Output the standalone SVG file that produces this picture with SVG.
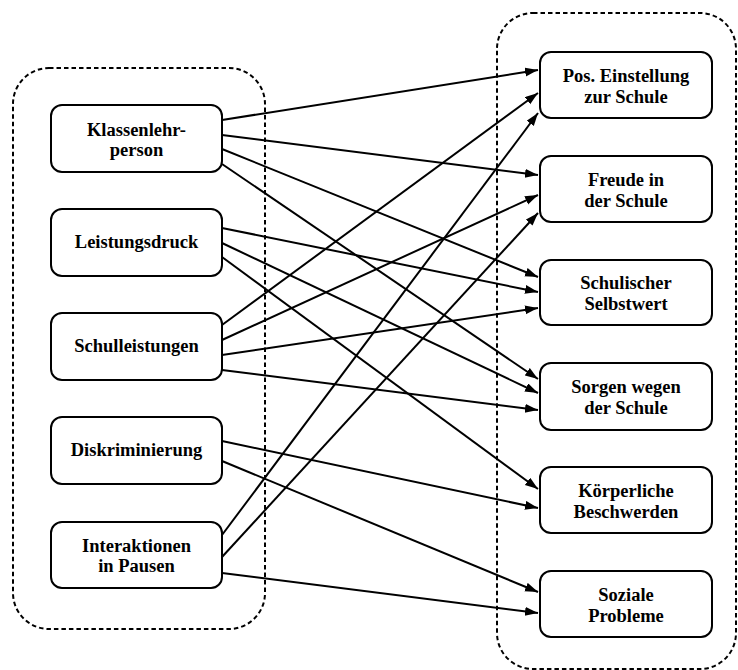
<svg xmlns="http://www.w3.org/2000/svg" width="738" height="670" viewBox="0 0 738 670">
<defs>
<style>
.cont{fill:none;stroke:#000;stroke-width:2;stroke-dasharray:4.5 3}
.box rect{fill:#fff;stroke:#000;stroke-width:2}
.box text{font-family:'Liberation Serif','Times New Roman',serif;font-size:18.5px;font-weight:bold;fill:#000;text-anchor:middle}
.edges line{stroke:#000;stroke-width:2;fill:none}
</style>
<marker id="ah" markerUnits="userSpaceOnUse" markerWidth="14" markerHeight="10" refX="13" refY="4.5" orient="auto">
<path d="M0,0 L13,4.5 L0,9 z" fill="#000"/>
</marker>
</defs>
<rect x="0" y="0" width="738" height="670" fill="#fff"/>
<g id="containers">
<rect class="cont" x="13" y="68" width="252" height="561" rx="36" ry="36"/>
<rect class="cont" x="497" y="13" width="239" height="656" rx="36" ry="36"/>
</g>
<g class="edges" id="connectors">
<line x1="222" y1="120" x2="538" y2="70" marker-end="url(#ah)"/>
<line x1="222" y1="135" x2="538" y2="175" marker-end="url(#ah)"/>
<line x1="222" y1="149" x2="538" y2="277" marker-end="url(#ah)"/>
<line x1="222" y1="164" x2="538" y2="379" marker-end="url(#ah)"/>
<line x1="222" y1="228" x2="538" y2="292" marker-end="url(#ah)"/>
<line x1="222" y1="243" x2="538" y2="393" marker-end="url(#ah)"/>
<line x1="222" y1="257" x2="538" y2="489" marker-end="url(#ah)"/>
<line x1="222" y1="325" x2="538" y2="93" marker-end="url(#ah)"/>
<line x1="222" y1="340" x2="538" y2="195" marker-end="url(#ah)"/>
<line x1="222" y1="355" x2="538" y2="308" marker-end="url(#ah)"/>
<line x1="222" y1="370" x2="538" y2="410" marker-end="url(#ah)"/>
<line x1="222" y1="441" x2="538" y2="508" marker-end="url(#ah)"/>
<line x1="222" y1="461" x2="538" y2="592" marker-end="url(#ah)"/>
<line x1="222" y1="535" x2="538" y2="113" marker-end="url(#ah)"/>
<line x1="222" y1="557" x2="538" y2="213" marker-end="url(#ah)"/>
<line x1="222" y1="573" x2="538" y2="613" marker-end="url(#ah)"/>
</g>
<g class="box" id="klassenlehrperson">
<rect x="51" y="105" width="171" height="67" rx="11"/>
<text x="136.5" y="136">Klassenlehr-</text>
<text x="136.5" y="156">person</text>
</g>
<g class="box" id="leistungsdruck">
<rect x="51" y="209" width="171" height="67" rx="11"/>
<text x="136.5" y="248">Leistungsdruck</text>
</g>
<g class="box" id="schulleistungen">
<rect x="51" y="313" width="171" height="67" rx="11"/>
<text x="136.5" y="352">Schulleistungen</text>
</g>
<g class="box" id="diskriminierung">
<rect x="51" y="417" width="171" height="67" rx="11"/>
<text x="136.5" y="456">Diskriminierung</text>
</g>
<g class="box" id="interaktionen">
<rect x="51" y="522" width="171" height="66" rx="11"/>
<text x="136.5" y="552">Interaktionen</text>
<text x="136.5" y="572">in Pausen</text>
</g>
<g class="box" id="einstellung">
<rect x="540" y="52" width="172" height="66" rx="11"/>
<text x="626" y="82">Pos. Einstellung</text>
<text x="626" y="103">zur Schule</text>
</g>
<g class="box" id="freude">
<rect x="540" y="156" width="172" height="66" rx="11"/>
<text x="626" y="186">Freude in</text>
<text x="626" y="207">der Schule</text>
</g>
<g class="box" id="selbstwert">
<rect x="540" y="260" width="172" height="65" rx="11"/>
<text x="626" y="289">Schulischer</text>
<text x="626" y="310">Selbstwert</text>
</g>
<g class="box" id="sorgen">
<rect x="540" y="363" width="172" height="67" rx="11"/>
<text x="626" y="393">Sorgen wegen</text>
<text x="626" y="414">der Schule</text>
</g>
<g class="box" id="koerperliche">
<rect x="540" y="467" width="172" height="66" rx="11"/>
<text x="626" y="497">Körperliche</text>
<text x="626" y="518">Beschwerden</text>
</g>
<g class="box" id="soziale">
<rect x="540" y="571" width="172" height="66" rx="11"/>
<text x="626" y="601">Soziale</text>
<text x="626" y="622">Probleme</text>
</g>
</svg>
